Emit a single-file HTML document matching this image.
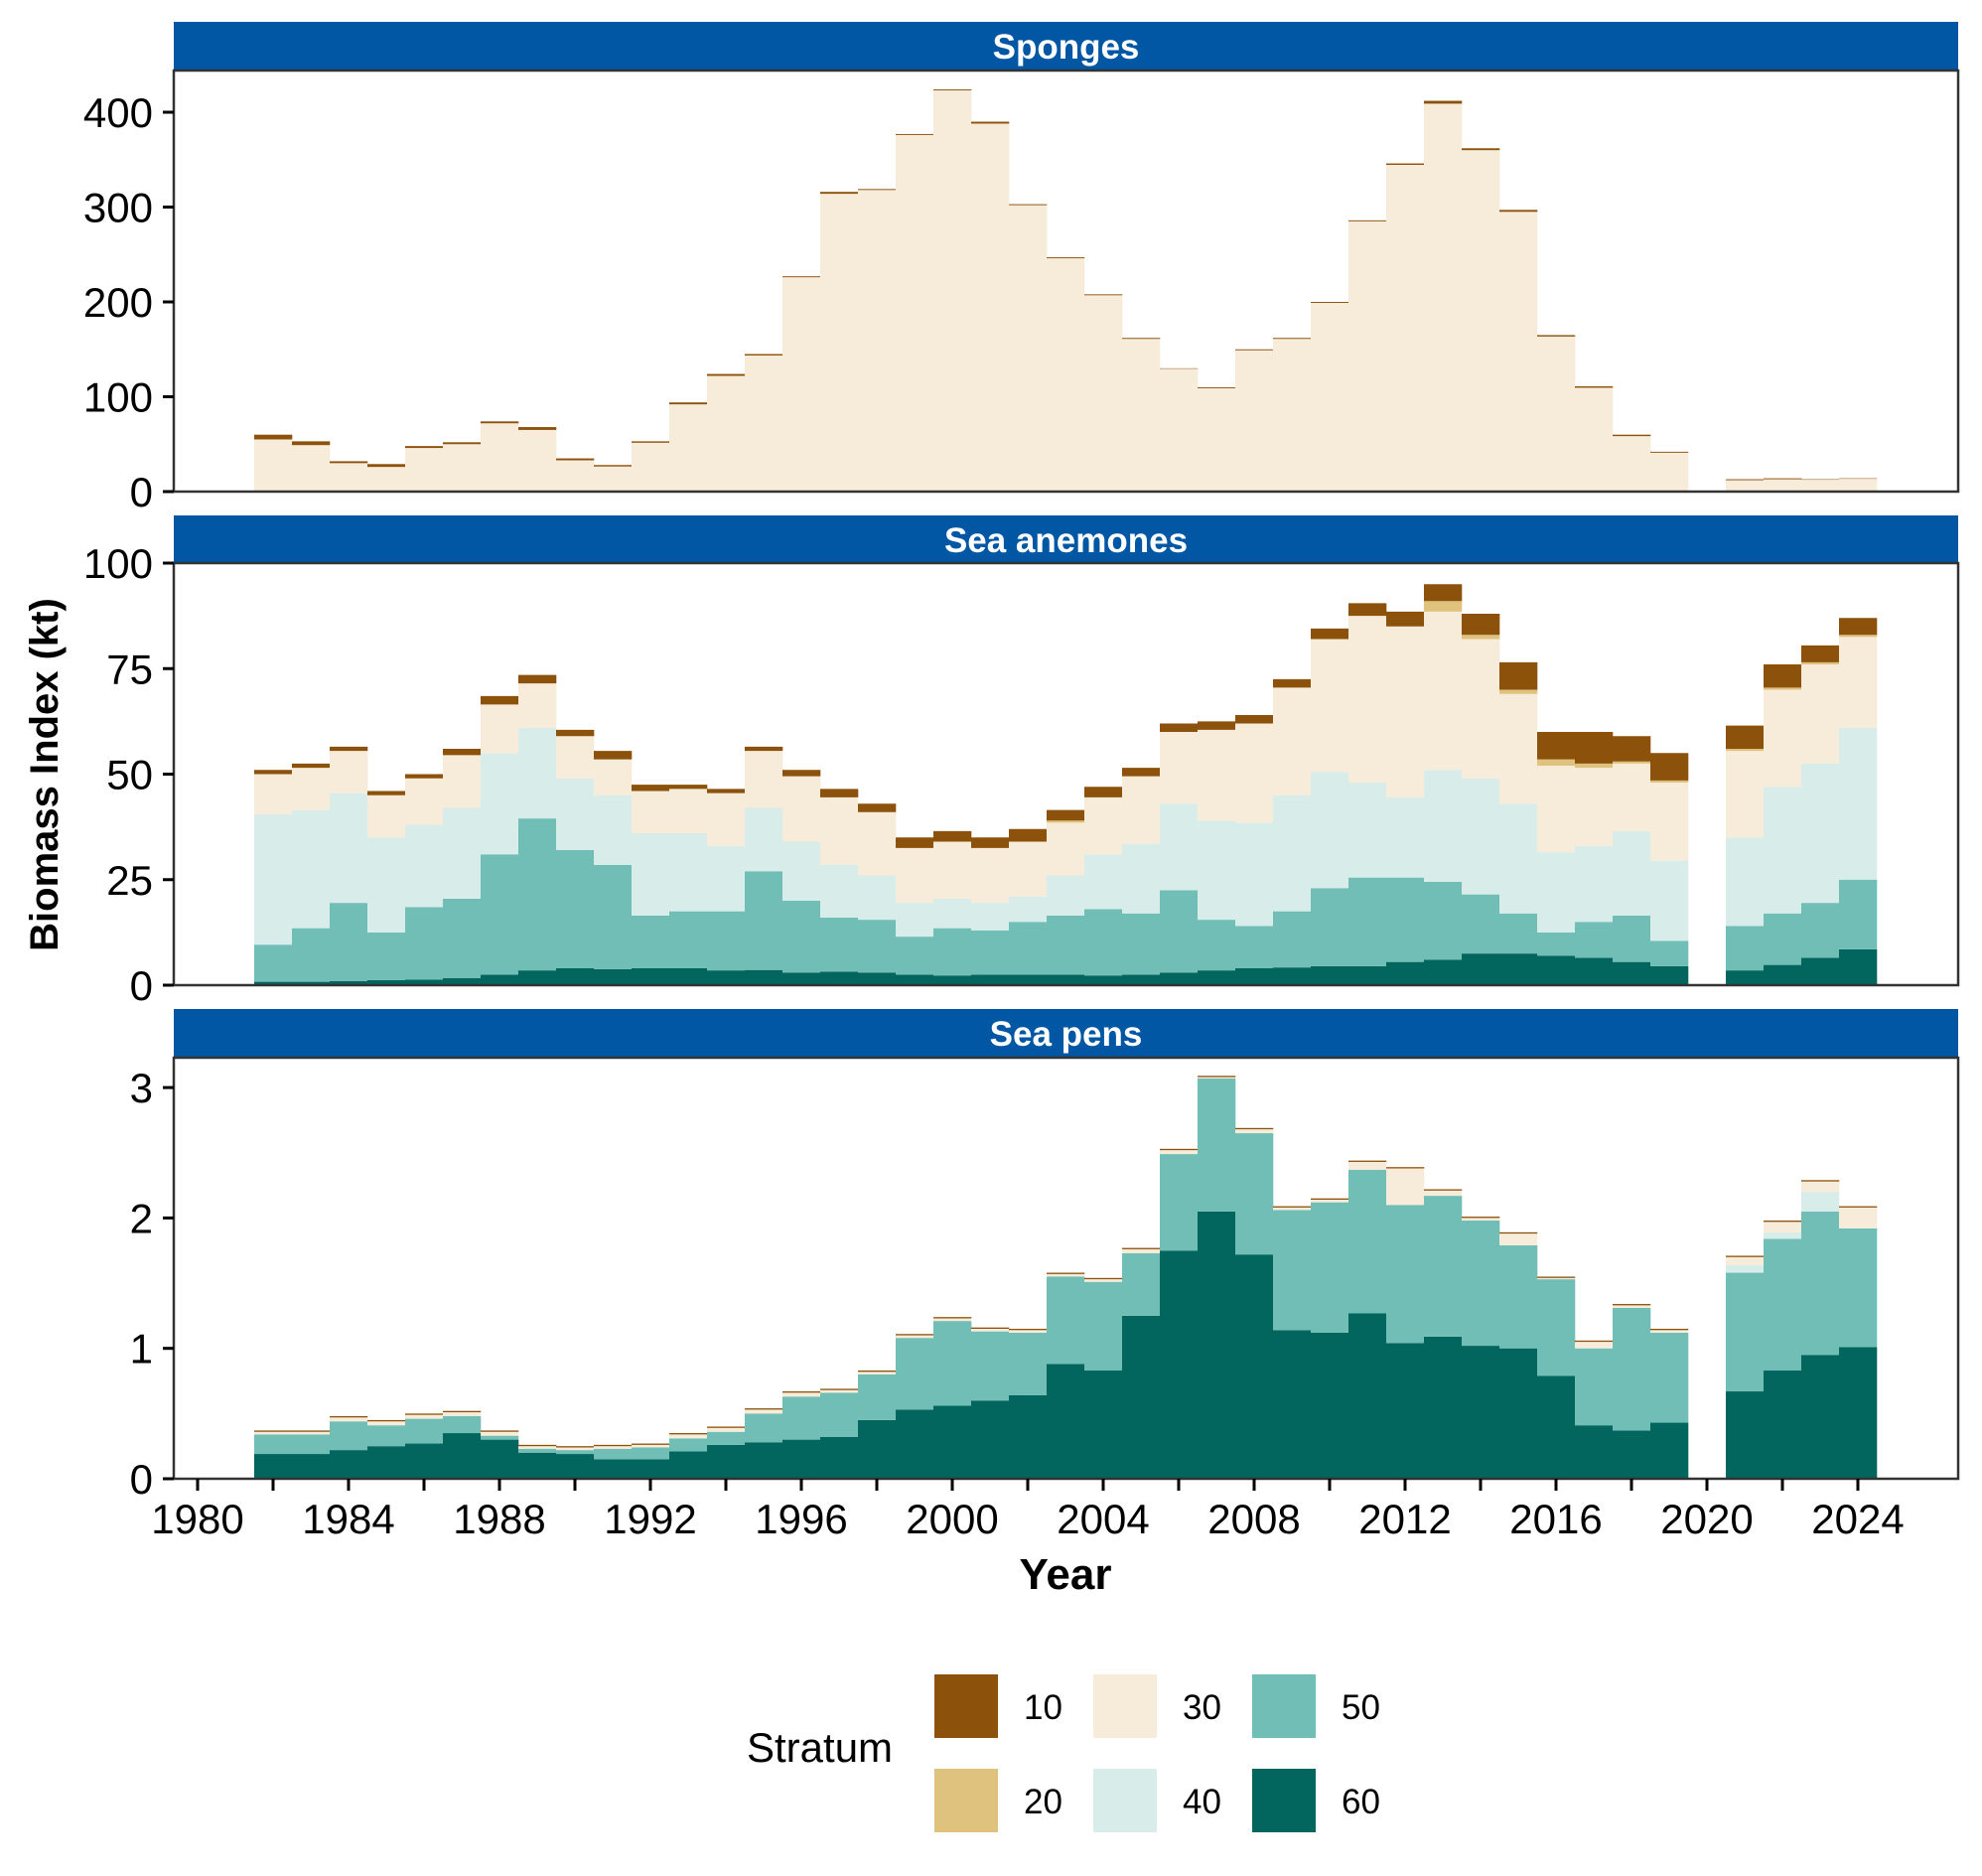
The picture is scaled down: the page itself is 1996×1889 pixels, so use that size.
<!DOCTYPE html>
<html><head><meta charset="utf-8"><title>Biomass Index by Stratum</title>
<style>
html,body{margin:0;padding:0;background:#fff;}
svg{display:block;font-family:"Liberation Sans",Arial,sans-serif;}
</style></head>
<body>
<svg id="chart" width="1996" height="1889" viewBox="0 0 1996 1889" xmlns="http://www.w3.org/2000/svg">
<rect x="0" y="0" width="1996" height="1889" fill="#fff"/>
<g id="panels"></g>
<text x="1073" y="1600" text-anchor="middle" font-size="44" font-weight="bold">Year</text>
<text transform="translate(58,780) rotate(-90)" text-anchor="middle" font-size="40" font-weight="bold">Biomass Index (kt)</text>
<g id="legend">
<text x="752" y="1774" font-size="42">Stratum</text>
</g>
</svg>
<script>
const years = [1982,1983,1984,1985,1986,1987,1988,1989,1990,1991,1992,1993,1994,1995,1996,1997,1998,1999,2000,2001,2002,2003,2004,2005,2006,2007,2008,2009,2010,2011,2012,2013,2014,2015,2016,2017,2018,2019,2021,2022,2023,2024];
const strata = ["10","20","30","40","50","60"];

// Sponges
const spS10 = [5,4,2,3,2,2,2,3,2,1.5,1.5,2,2,1.5,1,2,1,1,1,2,1,1,1,1,0.5,1,1,1,1,1,1.5,3,2,2,1.5,1.5,1.5,1,1,1,0.5,0.5];
const spS20 = [0,0,0,0,0,0,0,0,0,0,0,0,0,0,0,0,0,0,0,0,0,0,0,0,0,0,0,0,0,0,0,0,0,0,0,0,0,0,0,0,0,0];
const spS30 = [55,49,30,26,46,49,71,64,33,26.5,51.5,91,121,142.5,226,314,318,376,423,388,302,246,207,161,129.5,109,149,161,199,285,344.5,409,360,295,163.5,109.5,58.5,41,12,13,12.5,13.5];
const spS40 = [0,0,0,0,0,1,1,1,0,0,0,1,1,1,0,0,0,0,0,0,0,0,0,0,0,0,0,0,0,0,0,0,0,0,0,0,0,0,0,0,0,0];
const spS50 = [0,0,0,0,0,0,0,0,0,0,0,0,0,0,0,0,0,0,0,0,0,0,0,0,0,0,0,0,0,0,0,0,0,0,0,0,0,0,0,0,0,0];
const spS60 = [0,0,0,0,0,0,0,0,0,0,0,0,0,0,0,0,0,0,0,0,0,0,0,0,0,0,0,0,0,0,0,0,0,0,0,0,0,0,0,0,0,0];

// Sea anemones
const anS10 = [1,1,1,1,1,1.5,2,2,1.5,2,1.5,1,1,1,1.5,2,2,2.5,2.5,2.5,3,2.5,2.5,2,2,2,2,2,2.5,3,3.5,4,5,6.5,6.5,7.5,6,6.5,5.5,5.5,4,4];
const anS20 = [0,0,0,0,0,0,0,0,0,0,0,0,0,0,0,0,0,0,0,0,0,0.5,0,0,0,0,0,0,0,0,0,2.5,1,1,1.5,1,0.5,0.5,0.5,0.5,0.5,0.5];
const anS30 = [9.5,10,10,10,11,12.5,11.5,10.5,10,8.5,10,10.5,12.5,13.5,15.5,16,15,13,13.5,13,13,12.5,13.5,16,17,21.5,23.5,25.5,31.5,39.5,40.5,37.5,33,26,20.5,18.5,16,18.5,20.5,23,23.5,21.5];
const anS40 = [30.9,28,26,22.5,19.5,21.5,24,21.5,17,16.5,19.5,18.5,15.5,15,14,12.5,10.5,8,7,6.5,6,9.5,13,16.5,20.5,23.5,24.5,27.5,27.5,22.5,19,26.5,27.5,26,19,18,20,19,21,30,33,36];
const anS50 = [8.8,12.7,18.5,11.3,17.2,18.8,28.5,36,28,24.7,12.5,13.5,14,23.4,17,12.8,12.5,9,11.2,10.5,12.5,14,15.7,14.5,19.5,12,10,13.3,18.5,21,20,18.5,14,9.5,5.5,8.5,11,6,10.5,12.2,13,16.5];
const anS60 = [0.8,0.8,1,1.2,1.3,1.7,2.5,3.5,4,3.8,4,4,3.5,3.6,3,3.2,3,2.5,2.3,2.5,2.5,2.5,2.3,2.5,3,3.5,4,4.2,4.5,4.5,5.5,6,7.5,7.5,7,6.5,5.5,4.5,3.5,4.8,6.5,8.5];

// Sea pens
const peS10 = [0.01,0.01,0.01,0.01,0.01,0.01,0.01,0.01,0.01,0.01,0.01,0.01,0.01,0.01,0.01,0.01,0.01,0.01,0.01,0.01,0.01,0.01,0.01,0.01,0.01,0.01,0.01,0.01,0.01,0.01,0.01,0.01,0.01,0.01,0.01,0.01,0.01,0.01,0.01,0.01,0.01,0.01];
const peS20 = [0,0,0,0,0,0,0,0,0,0,0,0,0,0,0,0,0,0,0,0,0,0,0,0,0,0,0,0,0,0,0,0,0,0,0,0,0,0,0,0,0,0];
const peS30 = [0.02,0.02,0.03,0.03,0.03,0.03,0.03,0.02,0.02,0.02,0.02,0.03,0.03,0.03,0.03,0.02,0.02,0.02,0.02,0.02,0.02,0.02,0.02,0.03,0.03,0.01,0.03,0.02,0.02,0.06,0.28,0.04,0.02,0.09,0.01,0.05,0.02,0.02,0.06,0.08,0.08,0.16];
const peS40 = [0,0,0,0,0,0,0,0,0,0,0,0,0,0,0,0,0,0,0,0,0,0,0,0,0,0,0,0,0,0,0,0,0,0,0,0,0,0,0.06,0.05,0.15,0];
const peS50 = [0.15,0.15,0.22,0.16,0.19,0.13,0.03,0.03,0.03,0.08,0.09,0.10,0.10,0.22,0.33,0.34,0.35,0.55,0.65,0.53,0.48,0.67,0.68,0.48,0.74,1.02,0.93,0.92,1.0,1.10,1.06,1.08,0.96,0.79,0.74,0.59,0.94,0.69,0.91,1.01,1.10,0.91];
const peS60 = [0.19,0.19,0.22,0.25,0.27,0.35,0.30,0.20,0.19,0.15,0.15,0.21,0.26,0.28,0.30,0.32,0.45,0.53,0.56,0.60,0.64,0.88,0.83,1.25,1.75,2.05,1.72,1.14,1.12,1.27,1.04,1.09,1.02,1.00,0.79,0.41,0.37,0.43,0.67,0.83,0.95,1.01];

const spTicks = [0,100,200,300,400];
const anTicks = [0,25,50,75,100];
const peTicks = [0,1,2,3];
const xTickYears = [1980,1982,1984,1986,1988,1990,1992,1994,1996,1998,2000,2002,2004,2006,2008,2010,2012,2014,2016,2018,2020,2022,2024];
const xLabelYears = [1980,1984,1988,1992,1996,2000,2004,2008,2012,2016,2020,2024];

const colors = {"10":"#8C510A","20":"#DFC27D","30":"#F6ECD9","40":"#D8EDEA","50":"#70BEB6","60":"#03665E"};
const NS = "http://www.w3.org/2000/svg";
const PL = 175, PR = 1972;
function xs(yr){ return 199 + (yr - 1980) * 38.0; }

const panels = [
  {name:"Sponges", slug:"sponges", top:71, stripTop:22, y0:495, ppu:0.955, ticks:spTicks, series:[spS60,spS50,spS40,spS30,spS20,spS10]},
  {name:"Sea anemones", slug:"sea-anemones", top:567, stripTop:519, y0:992, ppu:4.25, ticks:anTicks, series:[anS60,anS50,anS40,anS30,anS20,anS10]},
  {name:"Sea pens", slug:"sea-pens", top:1065, stripTop:1016, y0:1489, ppu:131.3, ticks:peTicks, series:[peS60,peS50,peS40,peS30,peS20,peS10]}
];
const order = ["60","50","40","30","20","10"];
const root = document.getElementById("panels");
function mk(tag, attrs, parent){
  const e = document.createElementNS(NS, tag);
  for (const k in attrs) e.setAttribute(k, attrs[k]);
  parent.appendChild(e);
  return e;
}
panels.forEach((p, pi) => {
  const g = mk("g", {}, root);
  
  
  const ys = v => p.y0 - v * p.ppu;
  const strip = mk("rect", {x:PL, y:p.stripTop, width:PR-PL, height:p.top-p.stripTop, fill:"#0257A5"}, g);
  
  
  const st = mk("text", {x:(PL+PR)/2, y:p.stripTop+37, "text-anchor":"middle", "font-size":"35", "font-weight":"bold", fill:"#fff"}, g);
  st.textContent = p.name;
  
  
  years.forEach((yr, i) => {
    let cum = 0;
    order.forEach((s, si) => {
      const v = p.series[si][i];
      if (v > 0) {
        const r = mk("rect", {x:xs(yr-0.5), y:ys(cum+v), width:xs(yr+0.5)-xs(yr-0.5)+0.3, height:v*p.ppu, fill:colors[s]}, g);
        
        
      }
      cum += v;
    });
  });
  const b = mk("rect", {x:PL, y:p.top, width:PR-PL, height:p.y0-p.top, fill:"none", stroke:"#333", "stroke-width":"2.5"}, g);
  
  
  p.ticks.forEach(t => {
    const ty = ys(t);
    const tl = mk("line", {x1:164, x2:PL, y1:ty, y2:ty, stroke:"#000", "stroke-width":"3"}, g);
    
    
    const tx = mk("text", {x:154, y:ty+15, "text-anchor":"end", "font-size":"42"}, g);
    tx.textContent = t;
    
    
  });
  if (pi === 2) {
    xTickYears.forEach(yr => {
      const l = mk("line", {x1:xs(yr), x2:xs(yr), y1:p.y0, y2:p.y0+12, stroke:"#000", "stroke-width":"3"}, g);
      
      
    });
    xLabelYears.forEach(yr => {
      const t = mk("text", {x:xs(yr), y:1544, "text-anchor":"middle", "font-size":"42"}, g);
      t.textContent = yr;
      
      
    });
  }
});
const lg = document.getElementById("legend");
const legCols = [941, 1101, 1261];
const legRows = [1686, 1781];
strata.forEach((s, i) => {
  const cx = legCols[Math.floor(i/2)], cy = legRows[i%2];
  const r = mk("rect", {x:cx, y:cy, width:64, height:64, fill:colors[s]}, lg);
  
  
  const t = mk("text", {x:cx+90, y:cy+45, "font-size":"35"}, lg);
  t.textContent = s;
  
  
});
</script>
</body></html>
